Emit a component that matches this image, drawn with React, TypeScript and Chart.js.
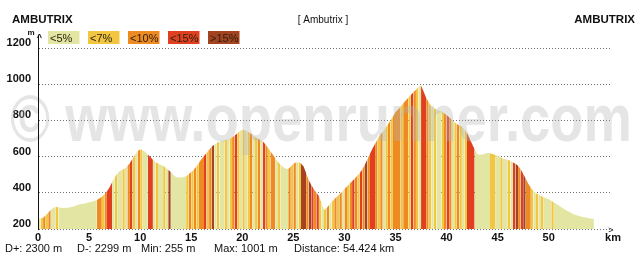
import React, { useEffect, useRef } from 'react';
import { Chart, registerables } from 'chart.js';

Chart.register(...registerables);

// ---- data ----
const STEP_KM = 0.25;
const TOTAL_KM = 54.424;

// elevation (m) every 0.25 km, last value at TOTAL_KM
const elevations: number[] = [
  255, 258, 262, 275,
  290, 305, 318, 322,
  320, 318, 316, 317,
  318, 322, 325, 330,
  335, 338, 340, 344,
  348, 351, 355, 360,
  368, 378, 390, 408,
  430, 458, 485, 505,
  520, 528, 535, 548,
  565, 588, 610, 628,
  640, 635, 625, 612,
  598, 582, 570, 562,
  555, 548, 540, 528,
  515, 500, 488, 484,
  485, 488, 492, 502,
  515, 528, 545, 565,
  585, 603, 620, 638,
  655, 666, 675, 682,
  688, 690, 692, 698,
  705, 716, 728, 740,
  748, 746, 740, 730,
  720, 710, 700, 693,
  685, 668, 650, 630,
  610, 590, 570, 555,
  543, 535, 532, 546,
  560, 568, 570, 562,
  545, 510, 470, 445,
  420, 400, 383, 345,
  305, 315, 332, 350,
  365, 378, 390, 405,
  420, 435, 450, 464,
  478, 494, 510, 530,
  555, 585, 615, 645,
  670, 698, 720, 738,
  755, 778, 800, 822,
  845, 860, 875, 893,
  910, 925, 940, 955,
  970, 985, 995, 960,
  925, 900, 880, 868,
  860, 855, 850, 840,
  830, 818, 805, 792,
  780, 772, 765, 750,
  730, 700, 670, 640,
  615, 610, 611, 616,
  620, 618, 615, 610,
  605, 598, 590, 586,
  582, 576, 568, 560,
  550, 530, 505, 478,
  450, 428, 410, 398,
  390, 382, 375, 370,
  365, 356, 346, 338,
  330, 320, 310, 302,
  295, 287, 280, 276,
  272, 268, 265, 262,
  258, 256, 255,
];

// slope class of each 0.25 km segment (0: <5%, 1: <7%, 2: <10%, 3: <15%, 4: >15%)
const slopeClassRows: string[] = [
  '0121', '2001', '0000', '0000', '0000', '0002', '2123', '3010', '0102', '3102',
  '1003', '3010', '0104', '0000', '0012', '1212', '2312', '4010', '0101', '2310',
  '1012', '0120', '3212', '2010', '0021', '2014', '4243', '2310', '1201', '2120',
  '2123', '2132', '4233', '2120', '1212', '2212', '2132', '1033', '2101', '0012',
  '3201', '2101', '3330', '0000', '0110', '0100', '1034', '2342', '2101', '0100',
  '0100', '0000', '0000', '0000', '00',
];

const slopeColors: string[] = ['#e3e6a3', '#f2c641', '#ee8a22', '#e0401f', '#a4431f'];
const slopeLabels: string[] = ['<5%', '<7%', '<10%', '<15%', '>15%'];

const yTicks: number[] = [200, 400, 600, 800, 1000, 1200];
const xTicks: number[] = [0, 5, 10, 15, 20, 25, 30, 35, 40, 45, 50];

const titleLeft = 'AMBUTRIX';
const titleCenter = '[ Ambutrix ]';
const titleRight = 'AMBUTRIX';
const statItems: string[] = ['D+: 2300 m', 'D-: 2299 m', 'Min: 255 m', 'Max: 1001 m', 'Distance: 54.424 km'];
const watermarkText = '\u00a9 www.openrunner.com';
const yUnit = 'm';
const xUnit = 'km';

const FONT = '"Liberation Sans", Arial, sans-serif';

const slopeClasses = slopeClassRows.join('');
const points = elevations.map((e, i) => ({
  x: i === elevations.length - 1 ? TOTAL_KM : i * STEP_KM,
  y: e,
}));

const decorPlugin = {
  id: 'decor',
  afterDatasetsDraw(chart: any) {
    const ctx = chart.ctx as CanvasRenderingContext2D;
    ctx.save();
    ctx.font = `bold 66px ${FONT}`;
    const w = ctx.measureText(watermarkText).width;
    const targetW = 622;
    ctx.translate(10, 141);
    ctx.scale(targetW / w, 1);
    ctx.fillStyle = 'rgba(180,180,180,0.34)';
    ctx.textBaseline = 'alphabetic';
    ctx.textAlign = 'left';
    ctx.fillText(watermarkText, 0, 0);
    ctx.restore();
  },
  afterDraw(chart: any) {
    const ctx = chart.ctx as CanvasRenderingContext2D;
    const xs = chart.scales.x;
    const ys = chart.scales.y;
    ctx.save();
    ctx.textBaseline = 'alphabetic';
    // header
    ctx.fillStyle = '#111';
    ctx.font = `bold 11.5px ${FONT}`;
    ctx.textAlign = 'left';
    ctx.fillText(titleLeft, 12, 23);
    ctx.textAlign = 'right';
    ctx.fillText(titleRight, 635, 23);
    ctx.font = `10px ${FONT}`;
    ctx.textAlign = 'center';
    ctx.fillText(titleCenter, 323, 23);

    // legend boxes
    ctx.font = `11px ${FONT}`;
    ctx.textAlign = 'left';
    slopeLabels.forEach((lab, i) => {
      const bx = 48 + i * 40;
      ctx.fillStyle = slopeColors[i];
      ctx.fillRect(bx, 31, 31.5, 13);
      ctx.fillStyle = '#2a2210';
      ctx.fillText(lab, bx + 2, 42);
    });

    // axis unit marks
    ctx.fillStyle = '#111';
    ctx.font = `bold 8px ${FONT}`;
    ctx.textAlign = 'center';
    ctx.fillText(yUnit, 31, 35);
    ctx.font = `bold 9px ${FONT}`;
    ctx.fillText('^', ys.right + 1.5, 40);
    ctx.font = `9px ${FONT}`;
    ctx.fillText('>', xs.right + 1, 233);
    ctx.font = `bold 11px ${FONT}`;
    ctx.fillText(xUnit, xs.right + 3, 241);

    // stats line
    ctx.font = `11px ${FONT}`;
    ctx.textAlign = 'left';
    ctx.fillStyle = '#111';
    const sx = [5, 77, 141, 214, 294];
    statItems.forEach((s, i) => ctx.fillText(s, sx[i], 252));
    ctx.restore();
  },
};

export default function App() {
  const ref = useRef<HTMLCanvasElement | null>(null);
  useEffect(() => {
    if (!ref.current) return;
    const chart = new Chart(ref.current, {
      type: 'line',
      data: {
        datasets: [
          {
            data: points,
            fill: 'start',
            borderWidth: 0,
            pointRadius: 0,
            tension: 0,
            backgroundColor: slopeColors[0],
            borderColor: 'rgba(0,0,0,0)',
            segment: {
              backgroundColor: (c: any) => slopeColors[Number(slopeClasses[c.p0DataIndex] || 0)],
            },
          } as any,
        ],
      },
      options: {
        animation: false,
        responsive: false,
        devicePixelRatio: 1,
        layout: { padding: { top: 35, right: 30, left: 0, bottom: 0 } },
        plugins: { legend: { display: false }, title: { display: false }, tooltip: { enabled: false } },
        scales: {
          x: {
            type: 'linear',
            min: 0,
            max: 56,
            afterBuildTicks: (s: any) => {
              s.ticks = xTicks.map((v) => ({ value: v }));
            },
            afterFit: (s: any) => {
              s.height = 34;
            },
            grid: { display: false, drawTicks: false },
            border: { display: false },
            ticks: {
              padding: 2,
              color: '#111',
              font: { family: FONT, size: 11, weight: 'bold' },
              maxRotation: 0,
              autoSkip: false,
              callback: (v: any) => String(v),
            },
          },
          y: {
            type: 'linear',
            min: 200,
            max: 1272,
            afterBuildTicks: (s: any) => {
              s.ticks = yTicks.map((v) => ({ value: v }));
            },
            afterFit: (s: any) => {
              s.width = 38;
            },
            grid: { color: '#6f6f6f', lineWidth: 1, drawTicks: false },
            border: { display: true, color: '#111', width: 1, dash: [1, 2], z: 1 } as any,
            ticks: {
              padding: 7,
              labelOffset: -5,
              color: '#111',
              font: { family: FONT, size: 11, weight: 'bold' },
              callback: (v: any) => String(v),
            },
          },
        },
      } as any,
      plugins: [decorPlugin],
    });
    return () => chart.destroy();
  }, []);
  return (
    <div style={{ position: 'fixed', left: 0, top: 0, width: 640, height: 263, background: '#fff' }}>
      <canvas ref={ref} width={640} height={263} style={{ display: 'block', width: 640, height: 263 }} />
    </div>
  );
}
